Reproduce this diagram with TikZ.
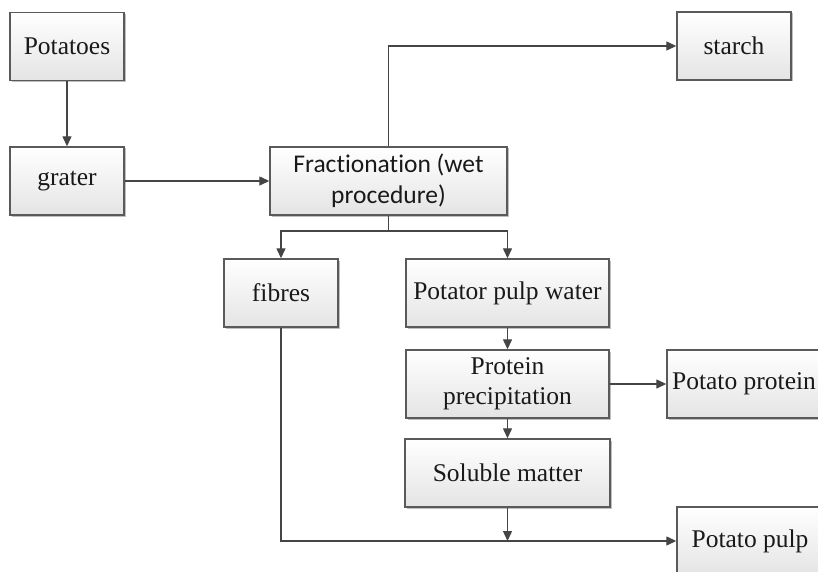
\documentclass[tikz,border=0pt]{standalone}
\usepackage{fontspec}
\setmainfont{Liberation Serif}
\newfontfamily\calib[Ligatures={NoCommon}]{Carlito}
\usetikzlibrary{arrows.meta,shadows}
\definecolor{boxline}{HTML}{5A5A5A}
\definecolor{arrline}{HTML}{454545}
\definecolor{boxbot}{HTML}{E4E4E4}
\begin{document}
\begin{tikzpicture}[x=1pt,y=-1pt,
  pbox/.style={draw=boxline, line width=1.4pt, rectangle, top color=white, bottom color=boxbot,
    minimum height=68pt, inner sep=2pt, align=center,
    font=\fontsize{25.5}{30}\selectfont, text=black!90,
    drop shadow={shadow xshift=1.5pt, shadow yshift=-1.5pt, opacity=0.25, fill=black}},
  arr/.style={draw=arrline, line width=1.3pt, -{Triangle[length=10pt,width=9pt]}},
  ln/.style={draw=arrline, line width=1.3pt}]
\useasboundingbox (0,0) rectangle (818,572);
\clip (0,0) rectangle (818,572);
\fill[white] (0,0) rectangle (818,572);

\node[pbox, minimum width=114pt] (potatoes) at (67,46.5) {Potatoes};
\node[pbox, minimum width=114pt] (grater) at (67,181) {grater};
\node[pbox, minimum width=237pt, font=\calib\fontsize{25.5}{31}\selectfont] (frac) at (388.5,181) {Fractionation (wet\\procedure)};
\node[pbox, minimum width=114pt] (starch) at (734,46) {starch};
\node[pbox, minimum width=114pt] (fibres) at (281,293) {fibres};
\node[pbox, minimum width=203pt] (ppw) at (507.5,293) {Potator pulp water};
\node[pbox, minimum width=203pt] (prec) at (507.5,384) {Protein\\precipitation};
\node[pbox, minimum width=154pt] (prot) at (744,384) {Potato protein};
\node[pbox, minimum width=205pt] (sol) at (507.5,473) {Soluble matter};
\node[pbox, minimum width=146pt] (pulp) at (750,541) {Potato pulp};

\coordinate (br) at (388.5,231);
\coordinate (join) at (507.5,541);

\draw[arr] (potatoes.south) -- (grater.north);
\draw[arr] (grater.east) -- (frac.west);
\draw[arr] (frac.north) |- (starch.west);
\draw[ln] (frac.south) -- (br);
\draw[arr] (br) -| (fibres.north);
\draw[arr] (br) -| (ppw.north);
\draw[arr] (ppw.south) -- (prec.north);
\draw[arr] (prec.east) -- (prot.west);
\draw[arr] (prec.south) -- (sol.north);
\draw[arr] (fibres.south) |- (pulp.west);
\draw[arr] (sol.south) -- (join);
\end{tikzpicture}
\end{document}
